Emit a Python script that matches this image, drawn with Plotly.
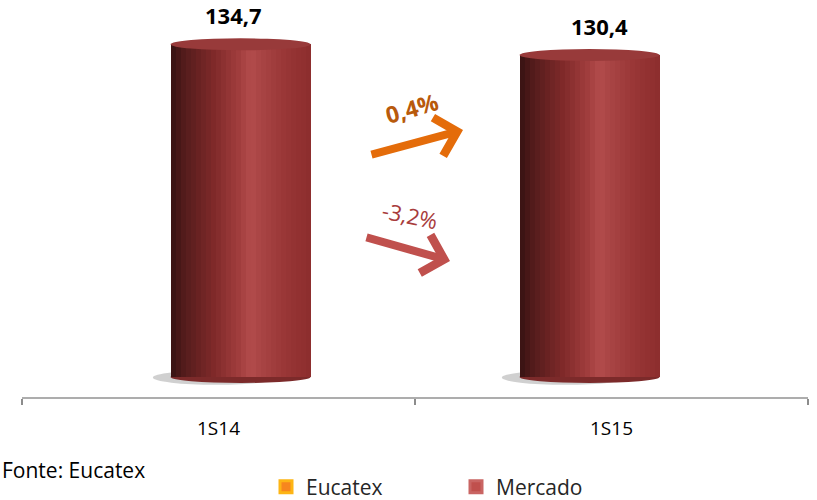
import plotly.graph_objects as go

# ---------------- data ----------------
categories = ["1S14", "1S15"]
mercado_values = [134.7, 130.4]
eucatex_values = [None, None]          # no Eucatex bars are drawn in the chart
series_names = ["Eucatex", "Mercado"]
growth_labels = ["0,4%", "-3,2%"]       # Eucatex, Mercado
source_text = "Fonte: Eucatex"

# ---------------- geometry helpers ----------------
W, H = 817, 500
ML, MR, MT, MB = 22, 9, 10, 103
PW = W - ML - MR
PH = H - MT - MB
Y_MIN, Y_MAX = -8.1, 148.6
UNIT_PX = PH / (Y_MAX - Y_MIN)


def px(x):
    return (x - ML) / PW


def py(y):
    return (H - MB - y) / PH


def fmt(v):
    return f"{v:.1f}".replace(".", ",")


# cylinder shading profile (left -> right)
stops = [
    (0.00, (0x36, 0x12, 0x12)),
    (0.10, (0x55, 0x1C, 0x1C)),
    (0.30, (0x7E, 0x29, 0x29)),
    (0.48, (0xA0, 0x3D, 0x3D)),
    (0.57, (0xB2, 0x4C, 0x4C)),
    (0.67, (0xA6, 0x42, 0x42)),
    (0.82, (0x98, 0x36, 0x36)),
    (1.00, (0x8C, 0x2D, 0x2D)),
]


def shade(t):
    for (t0, c0), (t1, c1) in zip(stops[:-1], stops[1:]):
        if t0 <= t <= t1:
            f = (t - t0) / (t1 - t0) if t1 > t0 else 0
            c = [round(a + (b - a) * f) for a, b in zip(c0, c1)]
            return "rgb({},{},{})".format(*c)
    return "rgb({},{},{})".format(*stops[-1][1])


BAR_W = 140 / 393            # bar width in category units
bar_left = [-0.122, -0.234]  # left edge offset of each cylinder from its category centre
N = 28
sw = BAR_W / N

fig = go.Figure()

for k in range(N):
    fig.add_trace(go.Bar(
        x=categories, y=mercado_values,
        offset=[l + k * sw for l in bar_left],
        width=sw * 1.15,
        marker=dict(color=shade((k + 0.5) / N), line=dict(width=0)),
        showlegend=False, hoverinfo="skip",
    ))

# legend-only entries
fig.add_trace(go.Bar(
    x=categories, y=eucatex_values, name=series_names[0],
    marker=dict(color="#F7861E", line=dict(color="#FDB515", width=3)),
))
fig.add_trace(go.Bar(
    x=categories, y=[None] * len(categories), name=series_names[1],
    marker=dict(color="#C0504D", line=dict(color="#C96563", width=3)),
))

shapes = []
cap = 6 / UNIT_PX
for i, v in enumerate(mercado_values):
    x0 = i + bar_left[i]
    x1 = x0 + BAR_W
    # floor shadow
    shapes.append(dict(type="circle", xref="x", yref="y", layer="below",
                       x0=x0 - 0.045, x1=x1 - 0.08, y0=-cap * 1.3, y1=cap * 1.1,
                       fillcolor="rgba(150,150,150,0.45)", line=dict(width=0)))
    # bottom of cylinder
    shapes.append(dict(type="circle", xref="x", yref="y", layer="below",
                       x0=x0, x1=x1, y0=-cap, y1=cap,
                       fillcolor="#7C2A2A", line=dict(width=0)))
    # top cap
    shapes.append(dict(type="circle", xref="x", yref="y", layer="above",
                       x0=x0, x1=x1, y0=v - cap, y1=v + cap,
                       fillcolor="#983A3A", line=dict(width=0)))

annotations = []
label_xshift = [15, -12]
for i, v in enumerate(mercado_values):
    annotations.append(dict(
        x=categories[i], y=v, xref="x", yref="y", text=fmt(v),
        showarrow=False, xshift=label_xshift[i], yanchor="bottom", yshift=12,
        font=dict(family="Open Sans", size=22, color="#000000", weight="bold"),
    ))

# growth arrows
annotations.append(dict(
    x=px(463), y=py(130), xref="paper", yref="paper", text="", showarrow=True,
    ax=-93, ay=25, arrowhead=4, arrowsize=0.95, arrowwidth=8, arrowcolor="#E46C0A",
))
annotations.append(dict(
    x=px(450), y=py(261), xref="paper", yref="paper", text="", showarrow=True,
    ax=-85, ay=-24, arrowhead=4, arrowsize=0.95, arrowwidth=8, arrowcolor="#C0504D",
))
annotations.append(dict(
    x=px(412), y=py(108), xref="paper", yref="paper", text=growth_labels[0],
    showarrow=False, textangle=-16, xanchor="center", yanchor="middle",
    font=dict(family="Open Sans", size=23, color="#B85A0C", weight="bold"),
))
annotations.append(dict(
    x=px(410), y=py(215), xref="paper", yref="paper", text=growth_labels[1],
    showarrow=False, textangle=12, xanchor="center", yanchor="middle",
    font=dict(family="Open Sans", size=22, color="#A83C3C"),
))
annotations.append(dict(
    x=px(0), y=py(470), xref="paper", yref="paper", text=source_text,
    showarrow=False, xanchor="left", yanchor="middle",
    font=dict(family="Open Sans", size=21, color="#000000"),
))

fig.update_layout(
    width=W, height=H,
    margin=dict(l=ML, r=MR, t=MT, b=MB, autoexpand=False),
    paper_bgcolor="white", plot_bgcolor="white",
    barmode="overlay", bargap=0,
    font=dict(family="Open Sans", color="#000000"),
    showlegend=True,
    legend=dict(orientation="h", x=px(266), y=py(487), xanchor="left", yanchor="middle",
                font=dict(family="Open Sans", size=21, color="#262626"),
                entrywidth=145, entrywidthmode="pixels", traceorder="normal",
                bgcolor="rgba(0,0,0,0)"),
    xaxis=dict(type="category", range=[-0.5, 1.5], showline=True, linecolor="#ADADAD",
               linewidth=2, ticks="outside", tickson="boundaries", ticklen=6,
               tickwidth=2, tickcolor="#8C8C8C", showgrid=False, zeroline=False,
               tickfont=dict(family="Open Sans", size=19, color="#000000"),
               ticklabelstandoff=13, fixedrange=True),
    yaxis=dict(range=[Y_MIN, Y_MAX], visible=False, showgrid=False, zeroline=False,
               fixedrange=True),
    shapes=shapes, annotations=annotations,
)

fig.write_html("out.html", config={"displayModeBar": False},
               post_script="document.body.style.margin='0';document.body.style.overflow='hidden';")
